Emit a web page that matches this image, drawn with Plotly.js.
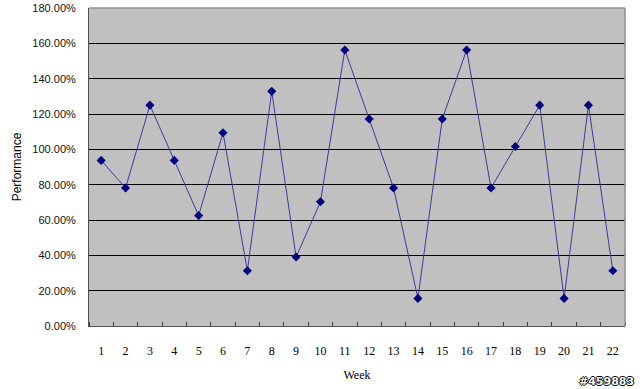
<!DOCTYPE html>
<html><head><meta charset="utf-8">
<script src="https://cdn.plot.ly/plotly-3.0.1.min.js"></script>
<style>html,body{margin:0;padding:0;background:#fff;}#chart{width:640px;height:389px;}</style>
</head><body><div id="chart"></div>
<script>
const weeks = [1,2,3,4,5,6,7,8,9,10,11,12,13,14,15,16,17,18,19,20,21,22];
const performance = [0.9375,0.78125,1.25,0.9375,0.625,1.09375,0.3125,1.328125,0.390625,0.703125,1.5625,1.171875,0.78125,0.15625,1.171875,1.5625,0.78125,1.015625,1.25,0.15625,1.25,0.3125];
const yTickVals = [0,0.2,0.4,0.6,0.8,1.0,1.2,1.4,1.6,1.8];
const xTitle = 'Week';
const yTitle = 'Performance';
const watermark = '#459883';

const trace = {
  x: weeks, y: performance, type: 'scatter', mode: 'lines+markers',
  line: {color: '#3a3aa0', width: 1},
  marker: {symbol: 'diamond', size: 7, color: '#000080', line: {width: 0}},
  hoverinfo: 'none'
};
const layout = {
  width: 640, height: 389,
  margin: {l: 89, r: 15, t: 8, b: 63, pad: 0},
  paper_bgcolor: '#ffffff', plot_bgcolor: '#c0c0c0',
  showlegend: false,
  xaxis: {
    range: [0.5, 22.5], tickmode: 'array', tickvals: weeks, ticktext: weeks.map(String),
    ticks: '', showgrid: false, zeroline: false,
    showline: true, linecolor: '#505050', linewidth: 1, mirror: false,
    minor: {tick0: 0.5, dtick: 1, ticks: 'inside', ticklen: 4, tickcolor: '#404040', showgrid: false},
    tickfont: {family: 'Liberation Serif, serif', size: 12, color: '#000'},
    ticklabelstandoff: 14,
    title: {text: xTitle, font: {family: 'Liberation Serif, serif', size: 12, color: '#000'}, standoff: 13}
  },
  yaxis: {
    range: [0, 1.8], tickmode: 'array', tickvals: yTickVals, tickformat: '.2%',
    ticks: '', showgrid: true, gridcolor: '#000000', gridwidth: 1, zeroline: false,
    showline: true, linecolor: '#505050', linewidth: 1, mirror: false,
    tickfont: {family: 'Liberation Sans, sans-serif', size: 11, color: '#111'},
    ticklabelstandoff: 10,
    title: {text: yTitle, font: {family: 'Liberation Sans, sans-serif', size: 12, color: '#000'}, standoff: 8}
  },
  shapes: [
    {type: 'line', xref: 'paper', yref: 'paper', x0: 0, x1: 1, y0: 1, y1: 1, line: {color: '#909090', width: 1.5}},
    {type: 'line', xref: 'paper', yref: 'paper', x0: 1, x1: 1, y0: 0, y1: 1, line: {color: '#909090', width: 1.5}}
  ],
  annotations: [{
    text: watermark, xref: 'paper', yref: 'paper', x: 1.021, y: -0.175, xanchor: 'right', yanchor: 'middle',
    showarrow: false,
    font: {family: 'DejaVu Sans, sans-serif', size: 11, color: '#ffffff', weight: 'bold',
           shadow: '1px 0 0 #000, -1px 0 0 #000, 0 1px 0 #000, 0 -1px 0 #000'}
  }]
};
Plotly.newPlot('chart', [trace], layout, {staticPlot: true, displayModeBar: false});
</script></body></html>
